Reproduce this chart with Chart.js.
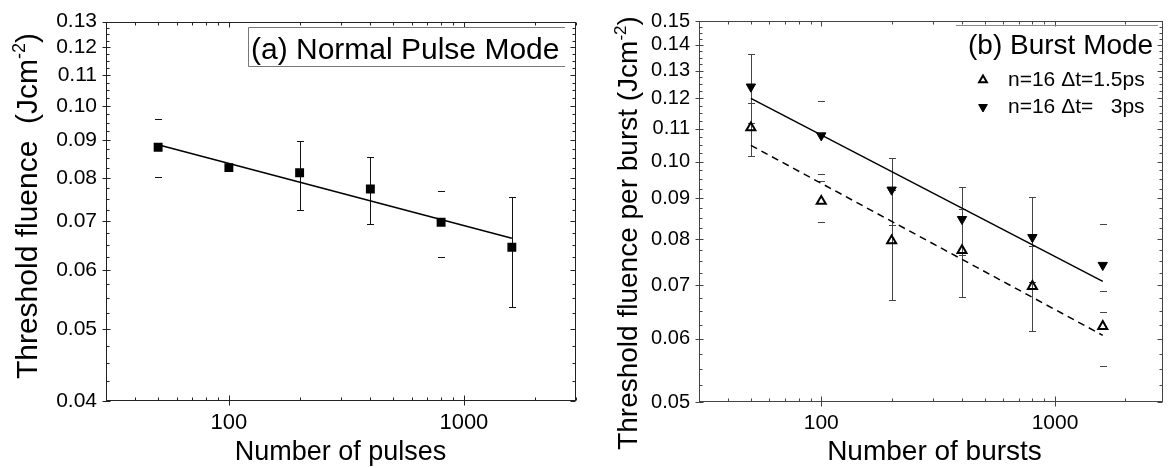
<!DOCTYPE html>
<html><head><meta charset="utf-8">
<script src="https://cdn.jsdelivr.net/npm/chart.js@4/dist/chart.umd.min.js"></script>
<style>
html,body{margin:0;padding:0;background:#fff;}
#wrap{position:relative;width:1170px;height:468px;background:#fff;}
.panel{position:absolute;top:0;height:468px;}
#pa{left:0;width:590px;}
#pb{left:590px;width:580px;}
</style></head><body>
<div id="wrap"><div class="panel" id="pa"><canvas id="ca"></canvas></div><div class="panel" id="pb"><canvas id="cb"></canvas></div></div>
<script>
// ---------- data ----------
const pulses = [50, 100, 200, 400, 800, 1600];
const normalFluence = [0.0880, 0.0826, 0.0813, 0.0773, 0.0697, 0.0645];
const normalErrLow  = [0.0803, null, 0.0725, 0.0693, 0.0626, 0.0535];
const normalErrHigh = [0.0960, null, 0.0898, 0.0854, 0.0769, 0.0755];
const fitRange = [50, 1600];
const normalFit = [0.0887, 0.0663];

const bursts = [50, 100, 200, 400, 800, 1600];
const burst15 = [0.1103, 0.0892, 0.0796, 0.0774, 0.0698, 0.0622];
const burst15Low  = [0.1015, 0.0839, 0.0671, 0.0676, 0.0613, 0.0555];
const burst15High = [0.1185, 0.0945, 0.0921, 0.0872, 0.0783, 0.0689];
const burst3 = [0.1241, 0.1078, 0.0922, 0.0847, 0.0804, 0.0742];
const burst3Low  = [0.1118, 0.0964, 0.0833, 0.0765, 0.0706, 0.0648];
const burst3High = [0.1364, 0.1192, 0.1011, 0.0929, 0.0902, 0.0836];
const burst3Fit  = [0.1200, 0.0708];
const burst15Fit = [0.1048, 0.0606];

const xMajorTicks = [100, 1000];
const xMinorTicks = [30, 40, 50, 60, 70, 80, 90, 200, 300, 400, 500, 600, 700, 800, 900, 2000, 3000];
const yMajorA = [0.04, 0.05, 0.06, 0.07, 0.08, 0.09, 0.10, 0.11, 0.12, 0.13];
const yMajorB = [0.05, 0.06, 0.07, 0.08, 0.09, 0.10, 0.11, 0.12, 0.13, 0.14, 0.15];
const yMinorStep = 0.0025;

const FONT = "'Liberation Sans', Arial, Helvetica, sans-serif";

// ---------- plugins ----------
const errorBarPlugin = {
  id: 'errbars',
  beforeDatasetsDraw(chart) {
    const {ctx, scales: {x, y}} = chart;
    chart.data.datasets.forEach(ds => {
      if (!ds.errLow) return;
      ctx.save();
      ctx.strokeStyle = ds.errColor || '#000';
      ctx.lineWidth = 1;
      ds.data.forEach((p, i) => {
        const lo = ds.errLow[i], hi = ds.errHigh[i];
        if (lo == null || hi == null) return;
        const px = Math.round(x.getPixelForValue(p.x)) + 0.5;
        const yl = Math.round(y.getPixelForValue(lo)) + 0.5;
        const yh = Math.round(y.getPixelForValue(hi)) + 0.5;
        const c = 3.5;
        ctx.beginPath();
        if (!(ds.hideStems || []).includes(i)) { ctx.moveTo(px, yh); ctx.lineTo(px, yl); }
        ctx.moveTo(px - c, yh); ctx.lineTo(px + c, yh);
        ctx.moveTo(px - c, yl); ctx.lineTo(px + c, yl);
        ctx.stroke();
      });
      ctx.restore();
    });
  }
};

const framePlugin = {
  id: 'frame',
  afterDraw(chart, args, opts) {
    const {ctx, chartArea: a, scales: {x, y}} = chart;
    ctx.save();
    ctx.strokeStyle = opts.color;
    ctx.lineWidth = 1;
    const L = Math.round(a.left) + 0.5, R = Math.round(a.right) - 0.5;
    const T = Math.round(a.top) + 0.5, B = Math.round(a.bottom) - 0.5;
    ctx.strokeRect(L, T, R - L, B - T);
    ctx.beginPath();
    const xs = v => Math.round(x.getPixelForValue(v)) + 0.5;
    const ys = v => Math.round(y.getPixelForValue(v)) + 0.5;
    xMajorTicks.forEach(v => { const p = xs(v);
      ctx.moveTo(p, B - 5); ctx.lineTo(p, B + 5);
      ctx.moveTo(p, T); ctx.lineTo(p, T + 5); });
    xMinorTicks.forEach(v => { if (v < x.min || v > x.max) return; const p = xs(v);
      ctx.moveTo(p, B); ctx.lineTo(p, B - 3);
      ctx.moveTo(p, T); ctx.lineTo(p, T + 3); });
    const majors = opts.yMajor;
    majors.forEach(v => { const p = ys(v);
      ctx.moveTo(L - 4, p); ctx.lineTo(L + 4, p);
      ctx.moveTo(R, p); ctx.lineTo(R - 5, p); });
    for (let v = y.min; v <= y.max + 1e-9; v += yMinorStep) {
      if (majors.some(m => Math.abs(m - v) < 1e-6)) continue;
      const p = ys(v);
      ctx.moveTo(L, p); ctx.lineTo(L + 3, p);
      ctx.moveTo(R, p); ctx.lineTo(R - 3, p);
    }
    ctx.stroke();
    ctx.restore();
  }
};

function richText(ctx, segs, cx, cy, rotate) {
  ctx.save();
  ctx.translate(cx, cy);
  if (rotate) ctx.rotate(-Math.PI / 2);
  ctx.fillStyle = '#000';
  ctx.textBaseline = 'alphabetic';
  ctx.textAlign = 'left';
  let total = 0;
  segs.forEach(s => { ctx.font = s.size + 'px ' + FONT; s.w = ctx.measureText(s.t).width; total += s.w; });
  let xx = -total / 2;
  segs.forEach(s => { ctx.font = s.size + 'px ' + FONT; ctx.fillText(s.t, xx, -(s.rise || 0)); xx += s.w; });
  ctx.restore();
}

function plainText(ctx, t, x, y, size) {
  ctx.save();
  ctx.font = size + 'px ' + FONT;
  ctx.fillStyle = '#000';
  ctx.textBaseline = 'alphabetic';
  ctx.textAlign = 'left';
  ctx.fillText(t, x, y);
  ctx.restore();
}

const textA = {
  id: 'textA',
  afterDraw(chart) {
    const ctx = chart.ctx;
    richText(ctx, [{t: 'Threshold fluence  (Jcm', size: 30}, {t: '-2', size: 18, rise: 12}, {t: ')', size: 30}], 37, 206, true);
    richText(ctx, [{t: 'Number of pulses', size: 27}], 340.5, 460, false);
    ctx.save();
    ctx.strokeStyle = '#777'; ctx.lineWidth = 1;
    ctx.beginPath();
    ctx.moveTo(565, 27.5); ctx.lineTo(248.5, 27.5); ctx.lineTo(248.5, 66.5); ctx.lineTo(565, 66.5);
    ctx.stroke();
    ctx.restore();
    plainText(ctx, '(a) Normal Pulse Mode', 251, 58.5, 30);
  }
};

const textB = {
  id: 'textB',
  afterDraw(chart) {
    const ctx = chart.ctx;
    richText(ctx, [{t: 'Threshold fluence per burst (Jcm', size: 28}, {t: '-2', size: 17, rise: 11}, {t: ')', size: 28}], 47, 233, true);
    richText(ctx, [{t: 'Number of bursts', size: 28}], 344.5, 460, false);
    ctx.save();
    ctx.strokeStyle = '#888'; ctx.lineWidth = 1;
    ctx.beginPath(); ctx.moveTo(366, 25.5); ctx.lineTo(568, 25.5); ctx.stroke();
    ctx.lineWidth = 2; ctx.strokeStyle = '#000'; ctx.fillStyle = 'rgba(0,0,0,0)';
    Chart.helpers.drawPoint(ctx, {pointStyle: 'triangle', radius: 4.5, rotation: 0, borderWidth: 2}, 393, 80);
    ctx.lineWidth = 1; ctx.fillStyle = '#000';
    Chart.helpers.drawPoint(ctx, {pointStyle: 'triangle', radius: 5, rotation: 180, borderWidth: 1}, 393, 107);
    ctx.restore();
    plainText(ctx, '(b) Burst Mode', 378, 54, 28);
    plainText(ctx, 'n=16 \u0394t=1.5ps', 418, 85.5, 21);
    plainText(ctx, 'n=16 \u0394t=   3ps', 418, 113, 21);
  }
};

function logScales(xmin, xmax, ymin, ymax, yMajor, yW, xH, ySize, xSize) {
  return {
    x: {
      type: 'logarithmic', position: 'bottom', min: xmin, max: xmax,
      afterBuildTicks: s => { s.ticks = xMajorTicks.map(v => ({value: v})); },
      afterFit: s => { s.height = xH; },
      grid: {display: false, drawTicks: false}, border: {display: false},
      ticks: {callback: v => String(v), color: '#000', font: {family: FONT, size: xSize}, padding: 9, maxRotation: 0, autoSkip: false}
    },
    y: {
      type: 'logarithmic', position: 'left', min: ymin, max: ymax,
      afterBuildTicks: s => { s.ticks = yMajor.map(v => ({value: v})); },
      afterFit: s => { s.width = yW; },
      grid: {display: false, drawTicks: false}, border: {display: false},
      ticks: {callback: v => Number(v).toFixed(2), color: '#000', font: {family: FONT, size: ySize}, padding: 9, autoSkip: false}
    }
  };
}

const pts = (xs, ys) => xs.map((x, i) => ({x, y: ys[i]}));

new Chart(document.getElementById('ca'), {
  type: 'scatter',
  data: {
    datasets: [
      {label: 'fit', data: pts(fitRange, normalFit), showLine: true, borderColor: '#000', borderWidth: 1.5, pointRadius: 0},
      {label: 'Normal pulse', data: pts(pulses, normalFluence), pointStyle: 'rect', pointRadius: 6.3, backgroundColor: '#000', borderColor: '#000', borderWidth: 0,
       errLow: normalErrLow, errHigh: normalErrHigh, errColor: '#111', hideStems: [0, 4]}
    ]
  },
  options: {
    responsive: true, maintainAspectRatio: false, animation: false, events: [],
    layout: {padding: {left: 0, top: 16, right: 14, bottom: 0}},
    scales: logScales(30, 3000, 0.04, 0.13, yMajorA, 106, 67, 21, 22),
    plugins: {legend: {display: false}, tooltip: {enabled: false}, frame: {color: '#222', yMajor: yMajorA}}
  },
  plugins: [errorBarPlugin, framePlugin, textA]
});

new Chart(document.getElementById('cb'), {
  type: 'scatter',
  data: {
    datasets: [
      {label: 'fit 3ps', data: pts(fitRange, burst3Fit), showLine: true, borderColor: '#000', borderWidth: 1.5, pointRadius: 0},
      {label: 'fit 1.5ps', data: pts(fitRange, burst15Fit), showLine: true, borderColor: '#000', borderWidth: 1.5, borderDash: [7, 5], pointRadius: 0},
      {label: 'n=16 \u0394t=1.5ps', data: pts(bursts, burst15), pointStyle: 'triangle', pointRadius: 5.2, backgroundColor: 'rgba(0,0,0,0)', borderColor: '#000', borderWidth: 2,
       errLow: burst15Low, errHigh: burst15High, errColor: '#444', hideStems: [1, 5]},
      {label: 'n=16 \u0394t=3ps', data: pts(bursts, burst3), pointStyle: 'triangle', rotation: 180, pointRadius: 5.4, backgroundColor: '#000', borderColor: '#000', borderWidth: 1,
       errLow: burst3Low, errHigh: burst3High, errColor: '#444', hideStems: [1, 5]}
    ]
  },
  options: {
    responsive: true, maintainAspectRatio: false, animation: false, events: [],
    layout: {padding: {left: 0, top: 16, right: 4, bottom: 0}},
    scales: logScales(30, 2890, 0.05, 0.15, yMajorB, 109, 66, 20, 21),
    plugins: {legend: {display: false}, tooltip: {enabled: false}, frame: {color: '#444', yMajor: yMajorB}}
  },
  plugins: [errorBarPlugin, framePlugin, textB]
});
</script>
</body></html>
